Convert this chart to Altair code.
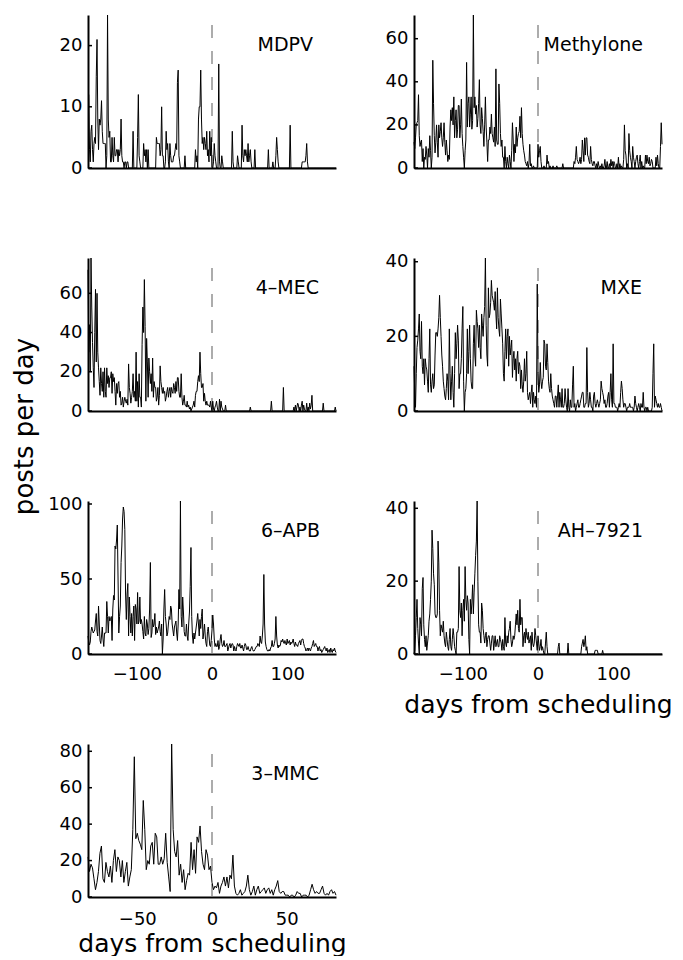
import altair as alt
import pandas as pd

FONT = "DejaVu Sans"

# ---- daily post counts ----
# wide panels: days -165 .. 165
mdpv = [12, 12, 3, 1, 6, 7, 3, 1, 4, 5,
        4, 15, 21, 8, 3, 8, 7, 8, 11, 6,
        4, 4, 4, 4, 0, 2, 25, 8, 5, 6,
        1, 1, 5, 2, 1, 5, 2, 2, 3, 3,
        1, 3, 2, 3, 8, 2, 1, 1, 0, 1,
        1, 0, 1, 1, 0, 0, 0, 0, 0, 0,
        6, 0, 0, 0, 0, 0, 5, 12, 2, 1,
        0, 0, 0, 0, 4, 2, 3, 1, 3, 0,
        3, 0, 0, 0, 0, 0, 0, 0, 0, 0,
        0, 5, 4, 4, 4, 4, 2, 3, 10, 2,
        2, 0, 0, 1, 6, 3, 4, 1, 0, 4,
        2, 1, 1, 1, 2, 2, 3, 4, 3, 14,
        16, 2, 1, 0, 0, 0, 0, 0, 0, 2,
        0, 0, 0, 0, 0, 0, 0, 0, 0, 0,
        0, 0, 0, 3, 1, 2, 0, 8, 10, 10,
        16, 8, 4, 5, 3, 5, 4, 3, 6, 2,
        3, 1, 6, 2, 5, 0, 0, 1, 4, 2,
        1, 0, 0, 0, 17, 1, 0, 0, 2, 1,
        0, 0, 0, 0, 0, 0, 0, 0, 0, 0,
        0, 0, 6, 1, 0, 0, 0, 0, 0, 2,
        1, 0, 0, 0, 0, 7, 2, 1, 3, 2,
        3, 2, 1, 4, 1, 2, 3, 1, 0, 0,
        0, 0, 3, 0, 0, 0, 0, 0, 0, 0,
        0, 0, 0, 0, 0, 0, 0, 0, 0, 0,
        3, 0, 0, 0, 0, 0, 1, 0, 0, 0,
        2, 5, 3, 1, 0, 0, 0, 0, 0, 0,
        0, 0, 0, 0, 0, 0, 0, 0, 0, 7,
        0, 0, 0, 0, 0, 0, 0, 0, 0, 0,
        0, 0, 0, 0, 0, 1, 1, 1, 1, 1,
        2, 4, 1, 0, 0, 0, 0, 0, 0, 0,
        0, 0, 0, 0, 0, 0, 0, 0, 0, 0,
        0, 0, 0, 0, 0, 0, 0, 0, 0, 0,
        0, 0, 0, 0, 0, 0, 0, 0, 0, 0,
        0]

methylone = [12, 9, 14, 20, 21, 22, 34, 15, 10, 12,
             13, 3, 9, 0, 5, 4, 10, 6, 0, 9,
             5, 15, 8, 0, 5, 50, 30, 15, 7, 12,
             20, 12, 5, 20, 14, 17, 21, 14, 10, 14,
             21, 12, 6, 13, 8, 3, 6, 4, 19, 27,
             22, 28, 20, 33, 14, 22, 27, 14, 18, 29,
             29, 14, 20, 32, 16, 10, 5, 0, 8, 13,
             49, 19, 30, 33, 19, 25, 33, 18, 22, 71,
             28, 33, 25, 29, 19, 23, 30, 41, 20, 16,
             28, 23, 17, 10, 20, 33, 19, 12, 3, 13,
             13, 19, 16, 25, 16, 14, 12, 19, 10, 46,
             13, 11, 11, 39, 30, 16, 10, 13, 5, 5,
             0, 10, 3, 0, 5, 2, 0, 6, 3, 0,
             8, 21, 13, 3, 11, 7, 19, 10, 14, 16,
             17, 24, 14, 28, 16, 11, 8, 6, 3, 2,
             1, 3, 0, 2, 11, 1, 2, 0, 0, 1,
             0, 0, 0, 0, 0, 11, 5, 8, 10, 3,
             0, 0, 0, 1, 0, 0, 0, 6, 2, 3,
             0, 1, 0, 0, 0, 1, 0, 0, 0, 0,
             1, 0, 0, 0, 0, 0, 0, 0, 2, 0,
             0, 0, 0, 0, 0, 0, 0, 0, 0, 0,
             0, 0, 0, 3, 2, 5, 10, 4, 3, 2,
             3, 5, 2, 4, 13, 8, 3, 14, 6, 14,
             14, 6, 5, 3, 2, 10, 4, 2, 1, 3,
             3, 1, 0, 2, 0, 3, 1, 0, 1, 0,
             2, 0, 0, 1, 4, 0, 0, 3, 0, 0,
             2, 0, 4, 1, 3, 0, 3, 2, 0, 0,
             2, 0, 5, 0, 2, 0, 1, 0, 0, 4,
             20, 8, 6, 0, 2, 0, 16, 8, 5, 3,
             0, 10, 5, 3, 0, 3, 5, 6, 2, 0,
             3, 6, 0, 3, 0, 1, 0, 0, 6, 2,
             6, 3, 2, 5, 1, 2, 4, 3, 0, 0,
             0, 0, 5, 1, 6, 2, 0, 0, 10, 21,
             11]

mec4 = [72, 30, 44, 20, 78, 53, 35, 22, 12, 40,
        62, 25, 60, 30, 22, 15, 8, 22, 14, 10,
        20, 7, 22, 10, 7, 22, 14, 18, 12, 17,
        17, 20, 9, 19, 15, 17, 10, 3, 14, 9,
        14, 15, 7, 10, 3, 4, 7, 2, 5, 7,
        5, 4, 6, 3, 24, 12, 9, 4, 7, 10,
        19, 7, 10, 5, 30, 5, 15, 2, 19, 7,
        7, 2, 34, 53, 40, 67, 43, 5, 37, 25,
        7, 27, 20, 14, 19, 10, 27, 7, 15, 12,
        12, 5, 7, 12, 3, 8, 23, 15, 12, 9,
        12, 9, 10, 5, 7, 10, 12, 7, 10, 12,
        7, 12, 10, 9, 14, 12, 9, 15, 10, 17,
        17, 10, 7, 7, 19, 7, 3, 5, 8, 3,
        3, 2, 5, 2, 3, 1, 2, 0, 1, 2,
        3, 5, 2, 8, 10, 10, 15, 18, 15, 30,
        19, 12, 12, 14, 5, 9, 5, 3, 5, 3,
        3, 3, 2, 5, 2, 0, 5, 1, 0, 2,
        3, 5, 2, 0, 0, 6, 0, 5, 2, 1,
        0, 0, 0, 3, 0, 0, 0, 0, 0, 0,
        0, 0, 0, 0, 0, 0, 0, 0, 0, 0,
        0, 0, 0, 0, 0, 0, 0, 0, 0, 0,
        0, 0, 0, 0, 0, 0, 2, 0, 0, 0,
        0, 0, 0, 0, 0, 0, 0, 0, 0, 0,
        0, 0, 0, 0, 0, 0, 0, 0, 0, 0,
        0, 0, 0, 0, 5, 0, 0, 0, 0, 0,
        0, 0, 0, 0, 0, 0, 0, 0, 0, 0,
        12, 0, 0, 0, 0, 0, 0, 0, 0, 0,
        0, 0, 0, 0, 2, 0, 3, 0, 2, 4,
        3, 0, 2, 0, 3, 5, 0, 3, 1, 0,
        0, 4, 0, 2, 0, 4, 1, 3, 8, 0,
        0, 0, 0, 0, 0, 0, 0, 0, 0, 0,
        0, 0, 0, 4, 0, 0, 0, 0, 0, 0,
        0, 0, 0, 0, 0, 0, 0, 0, 0, 2,
        0]

mxe = [12, 5, 1, 10, 17, 19, 22, 26, 16, 14,
       24, 12, 10, 14, 7, 14, 12, 11, 8, 5,
       14, 22, 7, 5, 8, 10, 6, 7, 15, 21,
       21, 20, 22, 25, 31, 25, 20, 15, 12, 8,
       6, 4, 3, 6, 10, 8, 3, 22, 10, 3,
       8, 12, 5, 1, 10, 21, 14, 18, 23, 19,
       6, 10, 10, 14, 22, 28, 8, 0, 5, 6,
       10, 22, 10, 16, 23, 14, 8, 6, 6, 18,
       23, 15, 12, 27, 24, 22, 17, 23, 17, 14,
       26, 23, 20, 25, 28, 41, 23, 15, 12, 33,
       25, 26, 29, 35, 31, 30, 29, 27, 32, 26,
       22, 33, 25, 22, 20, 30, 26, 22, 18, 10,
       8, 16, 22, 14, 20, 22, 12, 20, 15, 17,
       19, 9, 14, 16, 11, 14, 8, 14, 16, 10,
       13, 12, 6, 11, 7, 5, 8, 14, 8, 10,
       16, 5, 3, 4, 5, 2, 5, 7, 1, 5,
       3, 2, 4, 1, 34, 10, 5, 7, 13, 8,
       6, 8, 9, 19, 18, 12, 11, 18, 13, 8,
       6, 5, 10, 6, 4, 3, 2, 1, 4, 4,
       1, 4, 7, 1, 5, 3, 1, 6, 1, 1,
       2, 6, 3, 1, 0, 6, 1, 0, 3, 1,
       1, 7, 12, 1, 2, 0, 1, 2, 3, 1,
       1, 2, 3, 4, 5, 5, 1, 1, 2, 2,
       17, 5, 1, 2, 5, 3, 1, 1, 0, 4,
       5, 2, 1, 2, 3, 2, 1, 2, 3, 8,
       6, 5, 4, 2, 3, 1, 1, 2, 4, 5,
       1, 5, 10, 3, 1, 18, 2, 2, 1, 1,
       1, 0, 1, 2, 1, 5, 8, 6, 3, 1,
       2, 2, 1, 0, 1, 1, 1, 2, 1, 1,
       1, 1, 0, 1, 4, 2, 1, 0, 1, 2,
       1, 0, 2, 1, 1, 5, 1, 0, 1, 1,
       0, 1, 0, 0, 0, 0, 0, 1, 10, 18,
       1, 4, 3, 2, 1, 2, 1, 1, 2, 1,
       0]

apb6 = [12, 8, 6, 8, 15, 18, 16, 14, 15, 16,
        22, 27, 15, 12, 32, 20, 9, 7, 12, 18,
        10, 5, 14, 14, 14, 35, 25, 14, 25, 22,
        23, 25, 9, 30, 39, 36, 72, 70, 76, 86,
        50, 14, 25, 32, 61, 72, 90, 98, 95, 83,
        40, 23, 40, 47, 12, 38, 25, 14, 27, 12,
        25, 32, 9, 33, 30, 20, 41, 20, 22, 38,
        20, 23, 20, 15, 10, 25, 14, 12, 23, 20,
        13, 17, 30, 61, 11, 14, 23, 18, 20, 27,
        13, 18, 14, 16, 18, 22, 15, 12, 20, 0,
        10, 30, 43, 25, 20, 12, 14, 20, 25, 23,
        32, 30, 20, 16, 12, 18, 20, 22, 14, 9,
        20, 43, 30, 102, 25, 18, 38, 28, 15, 12,
        12, 20, 12, 9, 20, 28, 45, 71, 25, 12,
        7, 14, 10, 14, 18, 22, 27, 20, 12, 23,
        17, 25, 30, 10, 14, 20, 12, 7, 5, 15,
        18, 12, 6, 5, 9, 16, 26, 20, 10, 5,
        7, 5, 5, 9, 3, 5, 10, 13, 7, 5,
        6, 9, 5, 5, 6, 7, 2, 4, 6, 7,
        4, 6, 7, 6, 2, 5, 3, 2, 5, 7,
        6, 5, 7, 4, 4, 6, 4, 2, 5, 7,
        6, 3, 3, 5, 3, 2, 2, 4, 5, 3,
        2, 2, 3, 4, 5, 5, 7, 6, 5, 12,
        8, 7, 12, 20, 53, 20, 8, 5, 3, 2,
        2, 3, 2, 4, 5, 9, 5, 5, 7, 10,
        25, 12, 6, 4, 6, 5, 6, 9, 8, 10,
        8, 7, 9, 7, 6, 10, 7, 8, 9, 6,
        8, 7, 8, 10, 7, 5, 8, 6, 6, 5,
        7, 8, 9, 6, 9, 10, 10, 7, 5, 4,
        2, 3, 4, 2, 4, 3, 2, 4, 5, 7,
        9, 5, 6, 7, 5, 5, 2, 4, 5, 2,
        3, 1, 2, 3, 4, 5, 3, 2, 4, 1,
        2, 3, 1, 4, 2, 1, 3, 2, 4, 2,
        1]

ah7921 = [0, 1, 5, 10, 15, 7, 3, 0, 10, 8,
          5, 18, 21, 8, 4, 2, 5, 1, 3, 5,
          9, 11, 15, 20, 34, 29, 22, 19, 11, 10,
          10, 11, 31, 25, 12, 5, 8, 7, 6, 9,
          5, 3, 2, 6, 4, 2, 1, 4, 7, 2,
          1, 4, 7, 5, 2, 1, 0, 6, 6, 7,
          24, 12, 10, 14, 5, 12, 15, 9, 24, 15,
          12, 16, 14, 4, 0, 15, 11, 14, 19, 11,
          17, 22, 27, 31, 42, 20, 8, 6, 6, 3,
          14, 12, 7, 5, 3, 5, 6, 2, 4, 5,
          5, 3, 1, 3, 5, 5, 1, 3, 5, 2,
          3, 4, 2, 2, 5, 4, 3, 1, 4, 2,
          1, 10, 3, 2, 5, 3, 6, 7, 9, 4,
          2, 3, 5, 4, 5, 8, 11, 8, 12, 7,
          6, 15, 8, 10, 10, 2, 5, 6, 3, 7,
          5, 4, 6, 3, 4, 5, 1, 6, 3, 2,
          3, 7, 5, 3, 1, 5, 3, 1, 2, 4,
          1, 2, 1, 0, 0, 3, 6, 2, 0, 0,
          0, 0, 0, 0, 0, 0, 0, 0, 0, 0,
          0, 0, 2, 3, 0, 0, 0, 0, 0, 0,
          0, 0, 0, 0, 0, 3, 0, 0, 0, 0,
          0, 0, 0, 0, 0, 0, 0, 0, 0, 0,
          0, 0, 0, 2, 3, 4, 2, 3, 5, 1,
          2, 0, 0, 0, 0, 0, 0, 0, 0, 0,
          0, 1, 1, 1, 1, 0, 0, 0, 0, 0,
          0, 1, 0, 0, 0, 0, 0, 0, 0, 0,
          0, 0, 0, 0, 0, 0, 0, 0, 0, 0,
          0, 0, 0, 0, 0, 0, 0, 0, 0, 0,
          0, 0, 0, 0, 0, 0, 0, 0, 0, 0,
          0, 0, 0, 0, 0, 0, 0, 0, 0, 0,
          0, 0, 0, 0, 0, 0, 0, 0, 0, 0,
          0, 0, 0, 0, 0, 0, 0, 0, 0, 0,
          0, 0, 0, 0, 0, 0, 0, 0, 0, 0,
          0]

# narrow panel: days -83 .. 83
mmc3 = [22, 14, 18, 16, 10, 4, 8, 14, 24, 28,
        10, 8, 19, 14, 11, 17, 8, 20, 26, 14,
        22, 20, 11, 20, 8, 14, 19, 6, 11, 15,
        37, 77, 32, 35, 31, 29, 26, 53, 37, 15,
        20, 18, 28, 30, 18, 35, 33, 18, 18, 22,
        18, 21, 35, 19, 11, 3, 84, 37, 25, 22,
        31, 12, 18, 8, 15, 4, 9, 13, 12, 30,
        15, 26, 13, 33, 30, 39, 25, 18, 15, 26,
        23, 15, 17, 8, 4, 6, 5, 8, 2, 6,
        8, 11, 6, 11, 5, 12, 10, 23, 6, 2,
        1, 2, 4, 1, 2, 3, 6, 12, 4, 1,
        3, 6, 1, 4, 6, 2, 3, 4, 5, 2,
        4, 5, 2, 4, 1, 4, 6, 9, 3, 2,
        3, 3, 1, 1, 1, 0, 1, 1, 0, 1,
        3, 2, 2, 0, 1, 1, 1, 0, 1, 4,
        7, 4, 2, 3, 2, 2, 4, 6, 2, 1,
        2, 1, 3, 4, 2, 3, 1]

names = ["MDPV", "Methylone", "4\u2013MEC", "MXE", "6\u2013APB", "AH\u20137921", "3\u2013MMC"]
series = [mdpv, methylone, mec4, mxe, apb6, ah7921, mmc3]
starts = [-165, -165, -165, -165, -165, -165, -83]
x_half = [165, 165, 165, 165, 165, 165, 83]
x_ticks = [[-100, 0, 100]] * 6 + [[-50, 0, 50]]
y_max = [25, 71, 78, 41, 102, 42, 84]
y_ticks = [[0, 10, 20], [0, 20, 40, 60], [0, 20, 40, 60], [0, 20, 40],
           [0, 50, 100], [0, 20, 40], [0, 20, 40, 60, 80]]
show_x_labels = [False, False, False, False, True, True, True]
show_x_title = [False, False, False, False, False, True, True]
label_pad = [11, 11, 11, 11, 11, 11, 13]
title_pad = [0, 0, 0, 0, 0, 9, 3]
title_size = [25, 25, 25, 25, 25, 25, 25]
label_right = [23, 19, 17, 20, 16, 19, 17]
x_title = "days from scheduling"
y_title = "posts per day"

W, H = 248, 153


def make_panel(i):
    vals = series[i]
    df = pd.DataFrame({"day": list(range(starts[i], starts[i] + len(vals))),
                       "posts": vals})
    xs = alt.Scale(domain=[-x_half[i], x_half[i]], nice=False, zero=False)
    ys = alt.Scale(domain=[0, y_max[i]], nice=False)
    xaxis = alt.Axis(values=x_ticks[i], labels=show_x_labels[i],
                     title=x_title if show_x_title[i] else None,
                     labelPadding=label_pad[i], titlePadding=title_pad[i],
                     titleFontSize=title_size[i])
    yaxis = alt.Axis(values=y_ticks[i], title=None)

    def X(field):
        return alt.X(field, type="quantitative", scale=xs, axis=xaxis)

    def Y(field):
        return alt.Y(field, type="quantitative", scale=ys, axis=yaxis)

    line = alt.Chart(df).mark_line(color="black", strokeWidth=1).encode(
        x=X("day"), y=Y("posts"),
    )
    dash_df = pd.DataFrame({"day": [0], "posts": [0], "hi": [y_max[i]]})
    dash = alt.Chart(dash_df).mark_rule(color="#808080", strokeWidth=1.3,
                                        strokeDash=[13, 13]).encode(
        x=X("day"), y=Y("posts"), y2="hi:Q",
    )
    tick_df = pd.DataFrame({"posts": y_ticks[i]})
    yt = alt.Chart(tick_df).mark_rule(color="black", strokeWidth=1.5).encode(
        y=Y("posts"), x=alt.value(0), x2=alt.value(4),
    )
    lab = alt.Chart(pd.DataFrame({"name": [names[i]]})).mark_text(
        align="right", baseline="alphabetic", font=FONT, fontSize=19, color="black"
    ).encode(text="name:N", x=alt.value(W - label_right[i]), y=alt.value(35.7))
    layers = [dash, line, yt, lab]
    if i == 2:
        yl = alt.Chart(pd.DataFrame({"t": [y_title]})).mark_text(
            angle=270, align="center", baseline="alphabetic", font=FONT,
            fontSize=26, color="black"
        ).encode(text="t:N", x=alt.value(-55), y=alt.value(168.5))
        layers.append(yl)
    return alt.layer(*layers).properties(width=W, height=H)


panels = [make_panel(i) for i in range(7)]

chart = alt.concat(
    *panels, columns=2, spacing={"row": 90, "column": 78}, bounds="flush"
).properties(
    padding={"left": 4, "top": 5, "right": 0, "bottom": 0}
).configure_view(strokeWidth=0).configure_axis(
    domainColor="black", domainWidth=2, ticks=False, tickSize=0, grid=False,
    labelFont=FONT, labelFontSize=18, labelColor="black",
    titleFont=FONT, titleColor="black", titleFontWeight="normal",
).configure_axisY(labelPadding=6)

chart.save("out.html", embed_options={"renderer": "svg", "actions": False})
